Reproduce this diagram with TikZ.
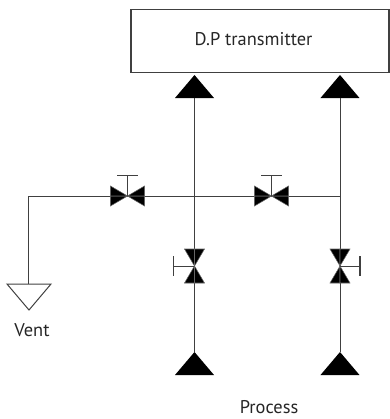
\documentclass[tikz,border=0pt]{standalone}
\usepackage{fontspec}
\setmainfont{PT Sans}
\usetikzlibrary{shapes.geometric}
\tikzset{
	pipe/.style={black!75, line width=0.75pt},
	solid tip/.style={fill=black, draw=none, isosceles triangle, isosceles triangle apex angle=80, isosceles triangle stretches, shape border rotate=90, inner sep=0pt, minimum width=39*0.75pt, minimum height=23*0.75pt, outer sep=0pt},
	valve half/.style={fill=black, draw=black!60, line width=0.4pt},
	transmitter box/.style={draw=black!75, line width=0.75pt, minimum width=258*0.75pt, minimum height=63*0.75pt, inner sep=0pt},
	label text/.style={font=\fontsize{13.8pt}{16pt}\selectfont, text=black!85, inner sep=0pt}
}
\newcommand{\valvebody}[2]{%
	\fill[valve half] (#1) -- ++(#2:17) -- ++(#2+90:10) -- cycle;
	\fill[valve half] (#1) -- ++(#2:17) -- ++(#2-90:10) -- cycle;
	\fill[valve half] (#1) -- ++(#2+180:17) -- ++(#2+90:10) -- cycle;
	\fill[valve half] (#1) -- ++(#2+180:17) -- ++(#2-90:10) -- cycle;
}
\begin{document}
\begin{tikzpicture}[x=0.75pt,y=-0.75pt]
	\useasboundingbox (0,0) rectangle (390,419);
	\node[transmitter box] (transmitter) at (260,40.5) {};
	\node[label text] (transmitter text) at (253.5,39.5) {D.P transmitter};
	\node[solid tip, anchor=apex] (hi top) at (194.5,75) {};
	\node[solid tip, anchor=apex] (lo top) at (340,75) {};
	\node[solid tip, anchor=apex] (hi process) at (194.5,352) {};
	\node[solid tip, anchor=apex] (lo process) at (340,352) {};
	\coordinate (vent valve) at (127.5,196);
	\coordinate (equal valve) at (271.5,196);
	\coordinate (hi valve) at (194.5,266);
	\coordinate (lo valve) at (340,266);
	\coordinate (hi tee) at (194.5,196);
	\coordinate (lo tee) at (340,196);
	\coordinate (vent corner) at (29,196);
	\coordinate (vent top) at (29,284);
	\draw[pipe] (hi top.lower side) -- (hi process.apex);
	\draw[pipe] (lo top.lower side) -- (lo process.apex);
	\draw[pipe] (lo tee) -- (vent corner) -- (vent top);
	\draw[pipe] (7,284) -- (51,284) -- (29,310) -- cycle;
	\valvebody{vent valve}{0}
	\valvebody{equal valve}{0}
	\valvebody{hi valve}{90}
	\valvebody{lo valve}{90}
	\draw[pipe] (vent valve) -- ++(0,-21) ++(-10.5,0) -- ++(21,0);
	\draw[pipe] (equal valve) -- ++(0,-21) ++(-10.5,0) -- ++(21,0);
	\draw[pipe] (hi valve) -- ++(-21,0) ++(0,-10) -- ++(0,20);
	\draw[pipe] (lo valve) -- ++(20,0) ++(0,-10) -- ++(0,20);
	\node[label text] (vent label) at (32,330) {Vent};
	\node[label text] (process label) at (269,407) {Process};
\end{tikzpicture}
\end{document}
